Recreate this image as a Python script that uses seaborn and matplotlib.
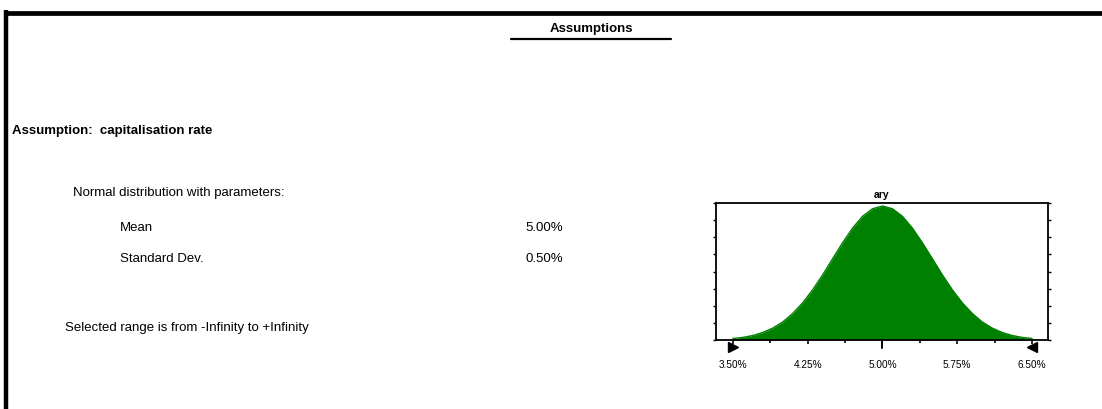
import numpy as np
import pandas as pd
import matplotlib
matplotlib.use("Agg")
import matplotlib.pyplot as plt
import seaborn as sns
from matplotlib.lines import Line2D

# ---- data ----
rate_pct = [3.5, 3.6, 3.7, 3.8, 3.9, 4.0, 4.1, 4.2, 4.3, 4.4, 4.5, 4.6, 4.7, 4.8, 4.9,
            5.0, 5.1, 5.2, 5.3, 5.4, 5.5, 5.6, 5.7, 5.8, 5.9, 6.0, 6.1, 6.2, 6.3, 6.4, 6.5]
density = [0.011, 0.019, 0.033, 0.055, 0.087, 0.132, 0.194, 0.272, 0.367, 0.476, 0.594,
           0.710, 0.817, 0.903, 0.958, 0.978, 0.958, 0.903, 0.817, 0.710, 0.594, 0.476,
           0.367, 0.272, 0.194, 0.132, 0.087, 0.055, 0.033, 0.019, 0.011]
xtick_vals = [3.50, 4.25, 5.00, 5.75, 6.50]
xtick_labels = ["3.50%", "4.25%", "5.00%", "5.75%", "6.50%"]
xminor_vals = [3.875, 4.625, 5.375, 6.125]
range_marks = [3.50, 6.50]

page_title = "Assumptions"
assumption_name = "Assumption:  capitalisation rate"
dist_label = "Normal distribution with parameters:"
param_names = ["Mean", "Standard Dev."]
param_values = ["5.00%", "0.50%"]
range_text = "Selected range is from -Infinity to +Infinity"
chart_title = "ary"

sns.set_theme(style="white")
plt.rcParams["font.family"] = ["Liberation Sans", "DejaVu Sans"]
plt.rcParams["text.color"] = "black"
plt.rcParams["xtick.color"] = "black"
plt.rcParams["ytick.color"] = "black"

W, H = 1102, 410
fig = plt.figure(figsize=(W / 100, H / 100), dpi=100)


def fx(px):
    return px / W


def fy(py):
    return 1 - py / H


# page border
fig.add_artist(Line2D([fx(4), fx(W)], [fy(13.5), fy(13.5)], color="black", lw=3.4,
                      solid_capstyle="butt"))
fig.add_artist(Line2D([fx(6), fx(6)], [fy(11), fy(H)], color="black", lw=3.2,
                      solid_capstyle="butt"))

# texts
fig.text(fx(591), fy(32), page_title, fontsize=9.5, fontweight="bold", ha="center",
         va="baseline", color="black")
fig.add_artist(Line2D([fx(511), fx(671)], [fy(40), fy(40)], color="black", lw=1.6))
fig.text(fx(12), fy(134), assumption_name, fontsize=9.5, fontweight="bold", ha="left",
         va="baseline", color="black")
fig.text(fx(73), fy(196), dist_label, fontsize=9.5, ha="left", va="baseline",
         color="black")
for i, (nm, val) in enumerate(zip(param_names, param_values)):
    yb = 231.5 + 30 * i
    fig.text(fx(120), fy(yb), nm, fontsize=9.5, ha="left", va="baseline", color="black")
    fig.text(fx(563), fy(yb), val, fontsize=9.5, ha="right", va="baseline", color="black")
fig.text(fx(65), fy(331.5), range_text, fontsize=9.5, ha="left", va="baseline",
         color="black")

# chart
ax = fig.add_axes([fx(716), fy(341), fx(1048) - fx(716), (341 - 204) / H])
df = pd.DataFrame({"rate": rate_pct, "density": density})
green = "#008000"
sns.lineplot(data=df, x="rate", y="density", color=green, lw=1.0, ax=ax)
ax.fill_between(df["rate"], df["density"], color=green, lw=0)

ax.set_xlim(3.33, 6.66)
ax.set_ylim(0, 1)
ax.set_xlabel("")
ax.set_ylabel("")
ax.set_title(chart_title, fontsize=7.5, fontweight="bold", pad=4, color="black")

ax.set_xticks(xtick_vals)
ax.set_xticklabels(xtick_labels, fontsize=7.2)
ax.set_xticks(xminor_vals, minor=True)
ax.tick_params(axis="x", which="major", direction="out", length=3, width=1.2,
               pad=10.5, colors="black", bottom=True)
ax.tick_params(axis="x", which="minor", direction="out", length=2.5, width=1.2,
               bottom=True, colors="black")
ax.set_yticks(np.linspace(0, 1, 9))
ax.set_yticklabels([])
ax.tick_params(axis="y", which="major", direction="out", length=2, width=1.0,
               left=True, right=True, colors="black")
for sp in ax.spines.values():
    sp.set_visible(True)
    sp.set_color("black")
    sp.set_linewidth(1.3)

# mean marker tick and range grabbers
ax.plot([5.0, 5.0], [0, -0.06], color="black", lw=1.4, clip_on=False,
        transform=ax.get_xaxis_transform())
ax.plot([range_marks[0]], [-0.05], marker=">", color="black", ms=7, clip_on=False,
        transform=ax.get_xaxis_transform())
ax.plot([range_marks[1]], [-0.05], marker="<", color="black", ms=7, clip_on=False,
        transform=ax.get_xaxis_transform())

fig.savefig("out.png", dpi=100)
